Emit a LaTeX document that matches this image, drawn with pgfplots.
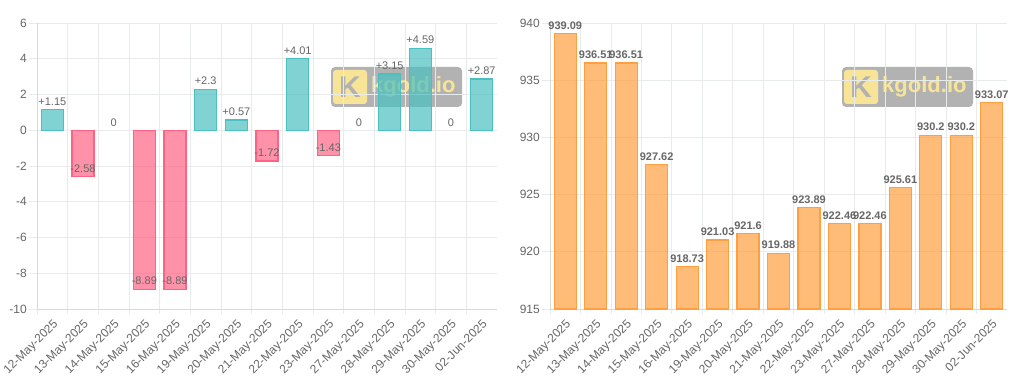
\documentclass[border=0pt]{standalone}
\usepackage{pgfplots}
\pgfplotsset{compat=1.18}
\usepackage{fontspec}
\setmainfont{Liberation Sans}
\usetikzlibrary{calc}
\definecolor{tealb}{RGB}{75,192,192}
\definecolor{pinkb}{RGB}{255,99,132}
\definecolor{orangeb}{RGB}{255,159,64}
\definecolor{txt}{RGB}{102,102,102}
\definecolor{gridc}{RGB}{232,235,235}
\definecolor{axc}{RGB}{215,218,218}
\definecolor{wmyellow}{RGB}{255,234,150}
\definecolor{wmgray}{RGB}{178,178,178}

\pgfplotsset{
  chartbase/.style={
    scale only axis, height=286pt,
    xmin=-0.5, xmax=14.5,
    xtick={0,...,14},
    xticklabels={12-May-2025,13-May-2025,14-May-2025,15-May-2025,16-May-2025,19-May-2025,20-May-2025,21-May-2025,22-May-2025,23-May-2025,27-May-2025,28-May-2025,29-May-2025,30-May-2025,02-Jun-2025},
    minor xtick={-0.5,0.5,...,13.5},
    xminorgrids=true, ymajorgrids=true, xmajorgrids=false,
    major grid style={draw=gridc, line width=0.8pt},
    minor grid style={draw=gridc, line width=0.8pt},
    axis x line*=bottom, axis y line*=left,
    axis line style={draw=axc, line width=0.8pt},
    tick align=outside,
    major tick length=8pt, minor tick length=5pt,
    major x tick style={draw=none},
    minor x tick style={draw=gridc, line width=0.8pt},
    major y tick style={draw=gridc, line width=0.8pt},
    tick label style={font=\fontsize{12}{14}\selectfont, text=txt},
    xticklabel style={rotate=45, anchor=north east, inner sep=1pt},
    yticklabel style={inner sep=2pt},
    /pgf/number format/assume math mode=true,
    clip=true,
  },
  vlabel/.style={nodes near coords, point meta=explicit symbolic,
    every node near coord/.append style={anchor=south, text=txt, text opacity=1, inner sep=3.5pt, font=\fontsize{11}{13}\selectfont}},
}

\newcommand{\wm}[2]{%
  \fill[black, fill opacity=0.3, rounded corners=4pt] (#1,#2) rectangle ++(131pt,40pt);
  \fill[wmyellow, fill opacity=0.9, rounded corners=3pt] ($(#1,#2)+(2pt,3pt)$) rectangle ++(34pt,34pt);
  \node[text=wmgray, font=\bfseries\fontsize{30}{30}\selectfont, inner sep=0pt] at ($(#1,#2)+(19pt,20pt)$) {K};
  \node[anchor=west, text=wmyellow, text opacity=0.9, font=\bfseries\fontsize{22}{22}\selectfont, inner sep=0pt] at ($(#1,#2)+(40pt,20pt)$) {kgold.io};
}

\begin{document}
\begin{tikzpicture}
\path[use as bounding box] (0,0) rectangle (1024pt,386pt);
\wm{331pt}{279pt}
\wm{842pt}{279pt}

% Left chart
\begin{axis}[chartbase, at={(37pt,77pt)}, anchor=south west, width=460pt,
  ymin=-10, ymax=6, ytick={-10,-8,...,6}]
\addplot[ybar, bar width=22pt, bar shift=0pt, draw=tealb, fill=tealb, fill opacity=0.7, line width=1.2pt, vlabel]
  table[meta=l] {
x y l
0 1.15 +1.15
5 2.3 +2.3
6 0.57 +0.57
8 4.01 +4.01
11 3.15 +3.15
12 4.59 +4.59
14 2.87 +2.87
};
\addplot[ybar, bar width=22pt, bar shift=0pt, draw=pinkb, fill=pinkb, fill opacity=0.7, line width=1.2pt, vlabel]
  table[meta=l] {
x y l
1 -2.58 -2.58
3 -8.89 -8.89
4 -8.89 -8.89
7 -1.72 -1.72
9 -1.43 -1.43
};
\addplot[ybar, bar width=22pt, bar shift=0pt, draw=none, fill=none, vlabel]
  table[meta=l] {
x y l
2 0 0
10 0 0
13 0 0
};
\end{axis}

% Right chart
\begin{axis}[chartbase, at={(550pt,77pt)}, anchor=south west, width=457pt,
  ymin=915, ymax=940, ytick={915,920,...,940}]
\addplot[ybar, bar width=22pt, bar shift=0pt, draw=orangeb, fill=orangeb, fill opacity=0.7, line width=1.2pt, vlabel,
  every node near coord/.append style={font=\bfseries\fontsize{11}{13}\selectfont}]
  table[meta=l] {
x y l
0 939.09 939.09
1 936.51 936.51
2 936.51 936.51
3 927.62 927.62
4 918.73 918.73
5 921.03 921.03
6 921.6 921.6
7 919.88 919.88
8 923.89 923.89
9 922.46 922.46
10 922.46 922.46
11 925.61 925.61
12 930.2 930.2
13 930.2 930.2
14 933.07 933.07
};
\end{axis}
\end{tikzpicture}
\end{document}
